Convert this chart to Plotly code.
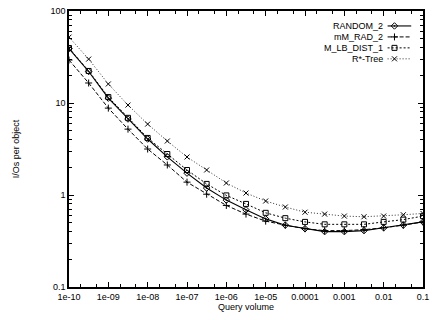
import plotly.graph_objects as go

# ---- data ----
query_volume = [1e-10, 3.16e-10, 1e-9, 3.16e-9, 1e-8, 3.16e-8, 1e-7, 3.16e-7, 1e-6, 3.16e-6,
                1e-5, 3.16e-5, 1e-4, 3.16e-4, 1e-3, 3.16e-3, 1e-2, 3.16e-2, 1e-1]
random_2 = [39, 22, 11.3, 6.7, 4.06, 2.6, 1.73, 1.19, 0.88, 0.69, 0.55, 0.47, 0.43, 0.40, 0.40, 0.41, 0.44, 0.47, 0.51]
mm_rad_2 = [29.3, 16.5, 8.8, 5.2, 3.16, 2.12, 1.38, 1.02, 0.77, 0.62, 0.52, 0.47, 0.43, 0.41, 0.41, 0.42, 0.44, 0.47, 0.51]
m_lb_dist_1 = [39.6, 22.3, 11.6, 6.9, 4.17, 2.79, 1.87, 1.32, 0.99, 0.80, 0.64, 0.56, 0.51, 0.48, 0.48, 0.48, 0.51, 0.54, 0.59]
rstar_tree = [52, 30, 16.1, 9.5, 5.9, 3.86, 2.59, 1.87, 1.35, 1.05, 0.86, 0.74, 0.65, 0.62, 0.59, 0.58, 0.59, 0.61, 0.63]

series_names = ["RANDOM_2", "mM_RAD_2", "M_LB_DIST_1", "R*-Tree"]
series_values = [random_2, mm_rad_2, m_lb_dist_1, rstar_tree]

x_tickvals = [1e-10, 1e-9, 1e-8, 1e-7, 1e-6, 1e-5, 1e-4, 1e-3, 1e-2, 1e-1]
x_ticktext = ["1e-10", "1e-09", "1e-08", "1e-07", "1e-06", "1e-05", "0.0001", "0.001", "0.01", "0.1"]
y_tickvals = [0.1, 1, 10, 100]
y_ticktext = ["0.1", "1", "10", "100"]

# ---- styles ----
styles = [
    dict(symbol="diamond-open-dot", dash="solid", width=1.1, color="#000000", size=5),
    dict(symbol="cross-thin-open", dash="4px,2px", width=1, color="#000000", size=5),
    dict(symbol="square-open", dash="2px,2px", width=1, color="#000000", size=5),
    dict(symbol="x-thin-open", dash="1px,2px", width=1, color="#333333", size=5),
]

FONT = "Liberation Sans, Arial, sans-serif"
fig = go.Figure()

for name, vals, st in zip(series_names, series_values, styles):
    fig.add_trace(go.Scatter(
        x=query_volume, y=vals, mode="lines+markers", name=name, showlegend=False,
        line=dict(color=st["color"], width=st["width"], dash=st["dash"]),
        marker=dict(symbol=st["symbol"], size=st["size"], color="#000000",
                    line=dict(color="#000000", width=1)),
    ))

# ---- manual legend (text left, sample right), in pixel-like overlay axes ----
legend_rows_y = [25, 36, 47, 58]
for name, st, ly in zip(series_names, styles, legend_rows_y):
    fig.add_trace(go.Scatter(
        x=[393, 417], y=[ly, ly], mode="lines", xaxis="x2", yaxis="y2", showlegend=False,
        hoverinfo="skip",
        line=dict(color=st["color"], width=st["width"], dash=st["dash"]),
    ))
    fig.add_trace(go.Scatter(
        x=[400], y=[ly], mode="markers", xaxis="x2", yaxis="y2", showlegend=False,
        hoverinfo="skip",
        marker=dict(symbol=st["symbol"], size=st["size"], color="#000000",
                    line=dict(color="#000000", width=1)),
    ))
    fig.add_annotation(x=390, y=ly, xref="x2", yref="y2", text=name, showarrow=False,
                       xanchor="right", yanchor="middle",
                       font=dict(family=FONT, size=9, color="#000000"))

axis_common = dict(
    showline=True, linecolor="#000000", linewidth=1.5, mirror="allticks",
    ticks="inside", ticklen=5, tickwidth=1, tickcolor="#000000",
    showgrid=False, zeroline=False,
    tickfont=dict(family=FONT, size=9, color="#000000"),
)

minor_x = []
for d in x_tickvals[:-1]:
    minor_x += [2 * d, 5 * d]
minor_y = []
for d in y_tickvals[:-1]:
    minor_y += [k * d for k in range(2, 10)]

fig.update_layout(
    width=435, height=320,
    margin=dict(l=69, r=6, t=10, b=33),
    paper_bgcolor="#ffffff", plot_bgcolor="#ffffff",
    showlegend=False,
    xaxis=dict(type="log", range=[-10, -1], tickmode="array", tickvals=x_tickvals,
               ticktext=x_ticktext,
               minor=dict(tickmode="array", tickvals=minor_x, ticks="inside", ticklen=3,
                          tickcolor="#000000", tickwidth=1),
               title=dict(text="Query volume", standoff=2,
                          font=dict(family=FONT, size=9, color="#000000")),
               **axis_common),
    yaxis=dict(type="log", range=[-1, 2], tickmode="array", tickvals=y_tickvals,
               ticktext=y_ticktext,
               minor=dict(tickmode="array", tickvals=minor_y, ticks="inside", ticklen=3,
                          tickcolor="#000000", tickwidth=1),
               title=dict(text="I/Os per object", standoff=29,
                          font=dict(family=FONT, size=9, color="#000000")),
               **axis_common),
    xaxis2=dict(overlaying="x", range=[69, 429], visible=False, fixedrange=True),
    yaxis2=dict(overlaying="y", range=[287, 10], visible=False, fixedrange=True),
    font=dict(family=FONT, size=9, color="#000000"),
)

fig.write_html("out.html", config={"displayModeBar": False},
               post_script="document.body.style.margin='0';document.body.style.padding='0';")
